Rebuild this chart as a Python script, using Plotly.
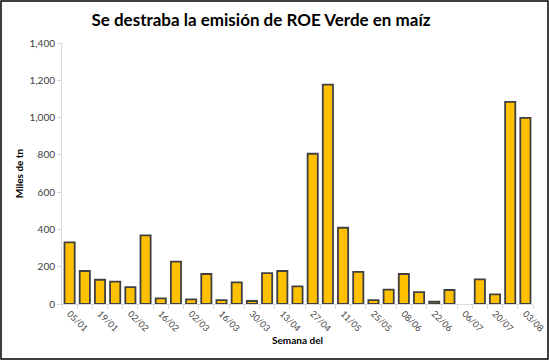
import plotly.graph_objects as go

weeks = ["05/01","12/01","19/01","26/01","02/02","09/02","16/02","23/02","02/03","09/03",
         "16/03","23/03","30/03","06/04","13/04","20/04","27/04","04/05","11/05","18/05",
         "25/05","01/06","08/06","15/06","22/06","29/06","06/07","13/07","20/07","27/07","03/08"]
values = [331, 177, 130, 120, 90, 368, 30, 227, 25, 161,
          21, 116, 16, 166, 177, 95, 806, 1177, 409, 172,
          21, 77, 161, 64, 12, 75, None, 132, 52, 1084, 998]
tick_text = [w if i % 2 == 0 else "" for i, w in enumerate(weeks)]
y_ticks = [0, 200, 400, 600, 800, 1000, 1200, 1400]

FONT = "Lato, Carlito, Calibri, sans-serif"

fig = go.Figure(go.Bar(
    x=weeks, y=values,
    marker=dict(color="#FFC000", line=dict(color="#404040", width=1.8)),
))

W, H = 549, 360
ml, mr, mt, mb = 62, 16, 43, 56
pw, ph = W - ml - mr, H - mt - mb

fig.update_layout(
    width=W, height=H,
    margin=dict(l=ml, r=mr, t=mt, b=mb, autoexpand=False),
    paper_bgcolor="white", plot_bgcolor="white",
    bargap=0.33,
    showlegend=False,
    font=dict(family=FONT, color="#404040"),
    title=dict(text="<b>Se destraba la emisión de ROE Verde en maíz</b>",
               x=261 / W, xref="container", xanchor="center", y=1 - 20 / H, yanchor="middle",
               font=dict(family=FONT, size=17, color="black")),
    xaxis=dict(
        type="category", automargin=False,
        tickvals=weeks, ticktext=tick_text,
        tickangle=45, tickfont=dict(size=9, color="#404040"),
        ticks="outside", tickson="boundaries", ticklen=4, tickcolor="#d9d9d9",
        showline=True, linecolor="#d9d9d9", linewidth=1,
        showgrid=False,
        title=dict(text="<b>Semana del</b>", font=dict(size=10, color="black"), standoff=4),
    ),
    yaxis=dict(
        range=[0, 1400], tickvals=y_ticks, tickformat=",d", automargin=False,
        tickfont=dict(size=10, color="#404040"),
        ticks="outside", ticklen=4, tickcolor="#d9d9d9",
        showline=True, linecolor="#d9d9d9", linewidth=1,
        showgrid=False, zeroline=False,
        title=dict(text="<b>Miles de tn</b>", font=dict(size=10, color="black"), standoff=4),
    ),
)

fig.add_shape(type="rect", xref="paper", yref="paper",
              x0=(-ml + 1) / pw, x1=(pw + mr - 1) / pw,
              y0=(-mb + 1) / ph, y1=(ph + mt - 1) / ph,
              line=dict(color="black", width=1.5), layer="above")

fig.write_html("out.html", config={"displayModeBar": False},
               post_script="document.body.style.margin='0';document.body.style.overflow='hidden';")
